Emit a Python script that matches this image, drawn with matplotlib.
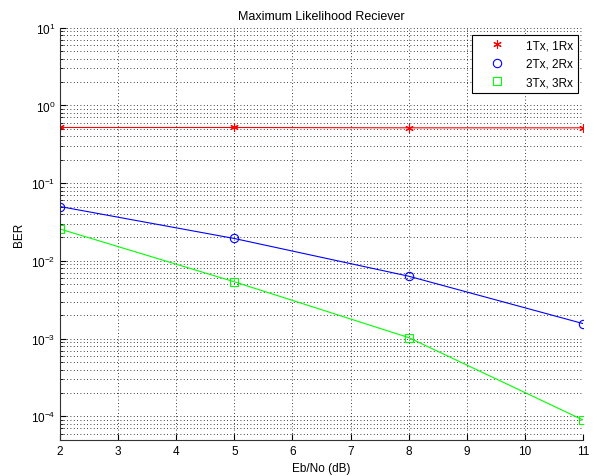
import matplotlib
matplotlib.use("Agg")
import matplotlib.pyplot as plt
from matplotlib.lines import Line2D
from matplotlib.ticker import LogLocator, NullFormatter

plt.rcParams['font.family'] = ['Liberation Sans', 'DejaVu Sans']
plt.rcParams['font.size'] = 8.5

ebno = [2, 5, 8, 11]
ber_1x1 = [0.52, 0.52, 0.515, 0.515]
ber_2x2 = [0.050, 0.0194, 0.00635, 0.00156]
ber_3x3 = [0.0257, 0.00538, 0.00103, 0.0000897]
labels = ['1Tx, 1Rx', '2Tx, 2Rx', '3Tx, 3Rx']
xticks = [2, 3, 4, 5, 6, 7, 8, 9, 10, 11]

fig = plt.figure(figsize=(6.03, 4.77), dpi=100)
ax = fig.add_axes([60/603, 1-440.7/477, (583-60)/603, (440.7-28.7)/477])

styles = [('r', (6, 2, 0), ber_1x1, 6), ('b', 'o', ber_2x2, 6), ('#00ff00', 's', ber_3x3, 5.5)]
handles = []
for (c, m, y, ms), lab in zip(styles, labels):
    kw = dict(color=c, marker=m, ms=ms, mfc='none' if m != (6, 2, 0) else c, mec=c, mew=0.8)
    ax.semilogy(ebno, y, lw=0.8, **kw)
    handles.append(Line2D([], [], ls='none', **kw))

ax.set_xlim(2, 11)
ax.set_ylim(5e-5, 10)
ax.set_xticks(xticks)
ax.yaxis.set_major_locator(LogLocator(base=10, numticks=20))
ax.yaxis.set_minor_locator(LogLocator(base=10, subs=range(2, 10), numticks=20))
ax.yaxis.set_minor_formatter(NullFormatter())
ax.grid(True, which='major', color='k', ls=(0, (1, 3)), lw=0.6)
ax.grid(True, which='minor', axis='y', color='k', ls=(0, (1, 3)), lw=0.6)
ax.tick_params(which='both', direction='in', top=False, right=False, labelsize=8.5)
ax.tick_params(which='major', length=4)
ax.tick_params(which='minor', length=2)
ax.spines['top'].set_visible(False)
ax.spines['right'].set_visible(False)
for s in ax.spines.values():
    s.set_linewidth(0.8)
    s.set_color('#333333')

ax.set_title('Maximum Likelihood Reciever', fontsize=9, pad=6)
ax.set_xlabel('Eb/No (dB)', fontsize=8.5)
ax.set_ylabel('BER', fontsize=8.5)

leg = ax.legend(handles, labels, loc='upper right', fancybox=False, edgecolor='k',
                framealpha=1, fontsize=8.5, handlelength=3.4, handletextpad=0.8,
                labelspacing=0.55, borderaxespad=0.6, bbox_to_anchor=(1.004, 1.0))
leg.get_frame().set_linewidth(0.8)

fig.savefig('out.png', dpi=100)
